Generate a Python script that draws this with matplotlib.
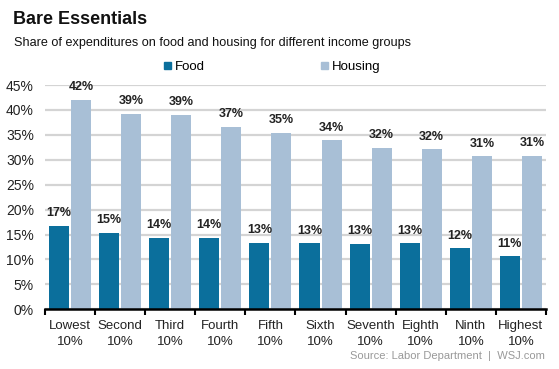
import matplotlib.pyplot as plt
from matplotlib.patches import Patch
import numpy as np

plt.rcParams['font.family'] = ['Liberation Sans', 'DejaVu Sans']

groups = ['Lowest\n10%', 'Second\n10%', 'Third\n10%', 'Fourth\n10%', 'Fifth\n10%',
          'Sixth\n10%', 'Seventh\n10%', 'Eighth\n10%', 'Ninth\n10%', 'Highest\n10%']
food = [16.8, 15.4, 14.4, 14.4, 13.4, 13.3, 13.2, 13.3, 12.3, 10.6]
housing = [42.0, 39.2, 39.0, 36.6, 35.4, 33.9, 32.4, 32.1, 30.7, 30.8]
yticks = [0, 5, 10, 15, 20, 25, 30, 35, 40, 45]

food_color = '#0b6f9c'
housing_color = '#a8bfd6'

fig = plt.figure(figsize=(5.59, 3.69), dpi=100)
ax = fig.add_axes([0.0805, 0.1618, 0.8962, 0.6078])

x = np.arange(len(groups))
w = 0.4
ax.bar(x - 0.22, food, width=w, color=food_color, zorder=3)
ax.bar(x + 0.22, housing, width=w, color=housing_color, zorder=3)

# value labels above bars
for i in range(len(groups)):
    ax.text(x[i] - 0.22, food[i] + 1.3, '%d%%' % round(food[i]), ha='center', va='bottom',
            fontsize=9, fontweight='bold', color='#222222')
    ax.text(x[i] + 0.22, housing[i] + 1.3, '%d%%' % round(housing[i]), ha='center', va='bottom',
            fontsize=9, fontweight='bold', color='#222222')

ax.set_xlim(-0.5, len(groups) - 0.5)
ax.set_ylim(0, 45)
ax.set_yticks(yticks)
ax.set_yticklabels(['%d%%' % t for t in yticks], fontsize=10, color='#222222')
ax.yaxis.grid(True, color='#d4d4d4', linewidth=1.6, zorder=0)
ax.tick_params(axis='y', length=0, pad=8)

ax.set_xticks(x)
ax.set_xticklabels(groups, fontsize=9.5, color='#222222', linespacing=1.38)
ax.set_xticks(np.arange(len(groups) + 1) - 0.5, minor=True)
ax.tick_params(axis='x', which='major', length=0, pad=8)
ax.tick_params(axis='x', which='minor', length=4, width=1.5, color='black', direction='out')

for s in ['top', 'right', 'left']:
    ax.spines[s].set_visible(False)
ax.spines['bottom'].set_linewidth(1.8)
ax.spines['bottom'].set_zorder(4)

fig.text(0.023, 0.935, 'Bare Essentials', fontsize=13, fontweight='bold', color='#111111')
fig.text(0.025, 0.875, 'Share of expenditures on food and housing for different income groups',
         fontsize=9.1, color='#111111')

handles = [Patch(color=food_color, label='Food'), Patch(color=housing_color, label='Housing')]
fig.legend(handles=handles, loc='center left', bbox_to_anchor=(0.294, 0.818), ncol=2,
           frameon=False, fontsize=9.5, handlelength=0.5, handleheight=0.5, handletextpad=0.3,
           columnspacing=8.8, borderaxespad=0, borderpad=0)

fig.text(0.975, 0.028, 'Source: Labor Department  |  WSJ.com', ha='right', fontsize=8,
         color='#999999')

fig.savefig('out.png', dpi=100)
